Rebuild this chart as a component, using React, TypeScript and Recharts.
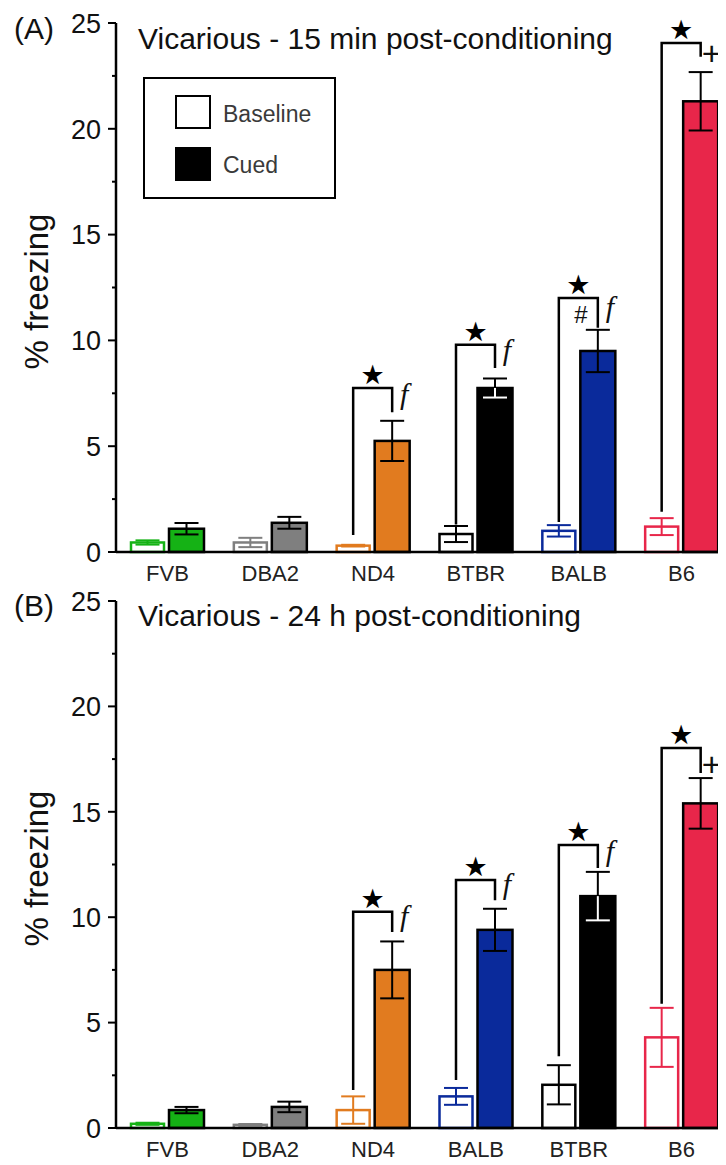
import { Bar, BarChart, Legend, XAxis, YAxis } from "recharts";

const FONT = '"Liberation Sans", Arial, Helvetica, sans-serif';
const BAR_GAP = 4;

const strainColors: Record<string, string> = {
  FVB: "#15b215",
  DBA2: "#7f7f7f",
  ND4: "#e17b1f",
  BTBR: "#000000",
  BALB: "#0a2a9b",
  B6: "#e8264a",
};

const yTicks = [0, 2.5, 5, 7.5, 10, 12.5, 15, 17.5, 20, 22.5, 25];

// (A) 15 min post-conditioning
const strainsA = ["FVB", "DBA2", "ND4", "BTBR", "BALB", "B6"];
const baselineA = [0.45, 0.45, 0.3, 0.85, 1.0, 1.2];
const baselineErrA = [0.1, 0.22, 0.04, 0.38, 0.27, 0.4];
const cuedA = [1.1, 1.38, 5.25, 7.75, 9.5, 21.3];
const cuedErrA = [0.27, 0.28, 0.95, 0.45, 1.0, 1.38];
const bracketLowA = [null, null, 0.8, 1.3, 1.42, 1.9];
const bracketTopA = [null, null, 7.75, 9.8, 12.0, 24.05];
const bracketEndA = [null, null, 6.6, 8.7, 10.6, 23.4];
const marksA = ["", "", "f", "f", "#f", "+"];

// (B) 24 h post-conditioning
const strainsB = ["FVB", "DBA2", "ND4", "BALB", "BTBR", "B6"];
const baselineB = [0.2, 0.15, 0.85, 1.5, 2.05, 4.3];
const baselineErrB = [0.05, 0.04, 0.65, 0.4, 0.93, 1.4];
const cuedB = [0.85, 1.0, 7.5, 9.4, 11.0, 15.4];
const cuedErrB = [0.15, 0.25, 1.35, 1.0, 1.15, 1.2];
const bracketLowB = [null, null, 1.8, 2.28, 3.4, 5.9];
const bracketTopB = [null, null, 10.26, 11.76, 13.42, 18.03];
const bracketEndB = [null, null, 9.3, 10.8, 12.33, 16.84];
const marksB = ["", "", "f", "f", "f", "+"];

function ErrorLines({ cx, hi, lo, top, color, innerColor }: any) {
  const cap = 12;
  return (
    <g strokeWidth={2}>
      <line x1={cx} x2={cx} y1={hi} y2={top} stroke={color} />
      <line x1={cx} x2={cx} y1={top} y2={lo} stroke={innerColor} />
      <line x1={cx - cap} x2={cx + cap} y1={hi} y2={hi} stroke={color} />
      <line x1={cx - cap} x2={cx + cap} y1={lo} y2={lo} stroke={innerColor} />
    </g>
  );
}

function BaselineShape(props: any) {
  const { x, y, width, height, payload } = props;
  const color = strainColors[payload.strain];
  const perUnit = height / payload.baseline;
  const zero = y + height;
  const cx = x + width / 2;
  const hi = zero - (payload.baseline + payload.baselineErr) * perUnit;
  const lo = zero - (payload.baseline - payload.baselineErr) * perUnit;
  return (
    <g>
      <rect x={x + 1} y={y} width={width - 2} height={height} fill="#fff" stroke={color} strokeWidth={2.5} />
      <ErrorLines cx={cx} hi={hi} lo={lo} top={y} color={color} innerColor={color} />
    </g>
  );
}

function CuedShape(props: any) {
  const { x, y, width, height, payload } = props;
  const color = strainColors[payload.strain];
  const perUnit = height / payload.cued;
  const zero = y + height;
  const toY = (v: number) => zero - v * perUnit;
  const cx = x + width / 2;
  const inner = payload.strain === "BTBR" ? "#fff" : "#000";
  const hi = toY(payload.cued + payload.cuedErr);
  const lo = toY(payload.cued - payload.cuedErr);

  let bracket = null;
  if (payload.bracketTop != null) {
    const baseX = x - BAR_GAP - width / 2;
    const topY = toY(payload.bracketTop);
    const endY = toY(payload.bracketEnd);
    const mid = (topY + endY) / 2;
    bracket = (
      <g>
        <path
          d={`M${baseX},${toY(payload.bracketLow)} V${topY} H${cx} V${endY}`}
          fill="none"
          stroke="#000"
          strokeWidth={2.5}
        />
        <text x={(baseX + cx) / 2} y={topY - 4} textAnchor="middle" fontSize={27} fontFamily="DejaVu Sans" fill="#000">
          ★
        </text>
        {payload.marks.includes("f") && (
          <text x={cx + 12} y={mid + 4} textAnchor="middle" fontSize={30} fontStyle="italic" fontFamily='"Liberation Serif", serif' fill="#111">
            f
          </text>
        )}
        {payload.marks.includes("#") && (
          <text x={cx - 17} y={mid + 10} textAnchor="middle" fontSize={24} fontFamily={FONT} fill="#111">
            #
          </text>
        )}
        {payload.marks.includes("+") && (
          <text x={cx + 11} y={mid + 3} dy="0.36em" textAnchor="middle" fontSize={34} fontFamily={FONT} fill="#111">
            +
          </text>
        )}
      </g>
    );
  }

  return (
    <g>
      <rect x={x} y={y} width={width} height={height} fill={color} stroke="#000" strokeWidth={2.5} />
      <ErrorLines cx={cx} hi={hi} lo={lo} top={y} color="#000" innerColor={inner} />
      {bracket}
    </g>
  );
}

function YTick(props: any) {
  const { x, y, payload } = props;
  const major = payload.value % 5 === 0;
  return (
    <g>
      <line x1={x} x2={x - (major ? 8 : 4)} y1={y} y2={y} stroke="#000" strokeWidth={2} />
      {major && (
        <text x={x - 15} y={y} dy="0.36em" textAnchor="end" fontSize={27} fontFamily={FONT} fill="#111">
          {payload.value}
        </text>
      )}
    </g>
  );
}

function XTick(props: any) {
  const { x, y, payload } = props;
  return (
    <text x={x} y={y + 21} dy="0.36em" textAnchor="middle" fontSize={22} fontFamily={FONT} fill="#222">
      {payload.value}
    </text>
  );
}

function YLabel(props: any) {
  const { viewBox } = props;
  const cx = viewBox.x + 37;
  const cy = viewBox.y + viewBox.height / 2 + 4;
  return (
    <text
      x={cx}
      y={cy}
      dy="0.33em"
      transform={`rotate(-90, ${cx}, ${cy})`}
      textAnchor="middle"
      fontSize={33}
      fontFamily={FONT}
      fill="#111"
    >
      % freezing
    </text>
  );
}

function LegendBox(props: any) {
  const items = props.payload || [];
  return (
    <svg width={194} height={123}>
      <rect x={1} y={1} width={191} height={120} fill="#fff" stroke="#000" strokeWidth={2} />
      {items.map((item: any, i: number) => (
        <g key={item.value}>
          <rect
            x={33}
            y={19 + i * 52}
            width={34}
            height={32}
            fill={i === 0 ? "#fff" : "#000"}
            stroke="#000"
            strokeWidth={2}
          />
          <text x={80} y={45 + i * 51} fontSize={23} fontFamily={FONT} fill="#3a3a3a">
            {item.value}
          </text>
        </g>
      ))}
    </svg>
  );
}

function Panel(props: any) {
  const data = props.strains.map((strain: string, i: number) => ({
    strain,
    baseline: props.baseline[i],
    baselineErr: props.baselineErr[i],
    cued: props.cued[i],
    cuedErr: props.cuedErr[i],
    bracketLow: props.bracketLow[i],
    bracketTop: props.bracketTop[i],
    bracketEnd: props.bracketEnd[i],
    marks: props.marks[i],
  }));

  return (
    <BarChart
      width={733}
      height={props.height}
      data={data}
      margin={{ top: props.marginTop, right: 0, bottom: 0, left: 0 }}
      barCategoryGap={14}
      barGap={BAR_GAP}
    >
      <XAxis
        dataKey="strain"
        height={props.xAxisHeight}
        interval={0}
        tickSize={0}
        tickMargin={0}
        tickLine={false}
        axisLine={{ stroke: "#000", strokeWidth: 2.5 }}
        tick={<XTick />}
      />
      <YAxis
        width={116}
        domain={[0, 25]}
        ticks={yTicks}
        interval={0}
        tickSize={0}
        tickMargin={0}
        tickLine={false}
        axisLine={{ stroke: "#000", strokeWidth: 2.5 }}
        tick={<YTick />}
        label={<YLabel />}
      />
      <Bar dataKey="baseline" name="Baseline" shape={<BaselineShape />} isAnimationActive={false} />
      <Bar dataKey="cued" name="Cued" shape={<CuedShape />} isAnimationActive={false} />
      {props.showLegend && (
        <Legend
          layout="horizontal"
          verticalAlign="middle"
          align="center"
          content={<LegendBox />}
          wrapperStyle={{ left: 143, top: 77, width: 194, height: 123 }}
        />
      )}
    </BarChart>
  );
}

export default function App() {
  return (
    <div style={{ position: "relative", width: 726, height: 1165, overflow: "hidden", margin: -8, background: "#fff" }}>
      <div style={{ position: "absolute", left: 0, top: 0 }}>
        <Panel
          strains={strainsA}
          baseline={baselineA}
          baselineErr={baselineErrA}
          cued={cuedA}
          cuedErr={cuedErrA}
          bracketLow={bracketLowA}
          bracketTop={bracketTopA}
          bracketEnd={bracketEndA}
          marks={marksA}
          height={592}
          marginTop={23}
          xAxisHeight={40}
          showLegend
        />
      </div>
      <div style={{ position: "absolute", left: 0, top: 570 }}>
        <Panel
          strains={strainsB}
          baseline={baselineB}
          baselineErr={baselineErrB}
          cued={cuedB}
          cuedErr={cuedErrB}
          bracketLow={bracketLowB}
          bracketTop={bracketTopB}
          bracketEnd={bracketEndB}
          marks={marksB}
          height={595}
          marginTop={31}
          xAxisHeight={37}
        />
      </div>
      <svg
        width={726}
        height={1165}
        style={{ position: "absolute", left: 0, top: 0, pointerEvents: "none" }}
        fontFamily={FONT}
        fill="#111"
      >
        <text x={14} y={39} fontSize={30}>(A)</text>
        <text x={138} y={49} fontSize={30}>Vicarious - 15 min post-conditioning</text>
        <text x={14} y={616} fontSize={30}>(B)</text>
        <text x={138} y={626} fontSize={30}>Vicarious - 24 h post-conditioning</text>
      </svg>
    </div>
  );
}
